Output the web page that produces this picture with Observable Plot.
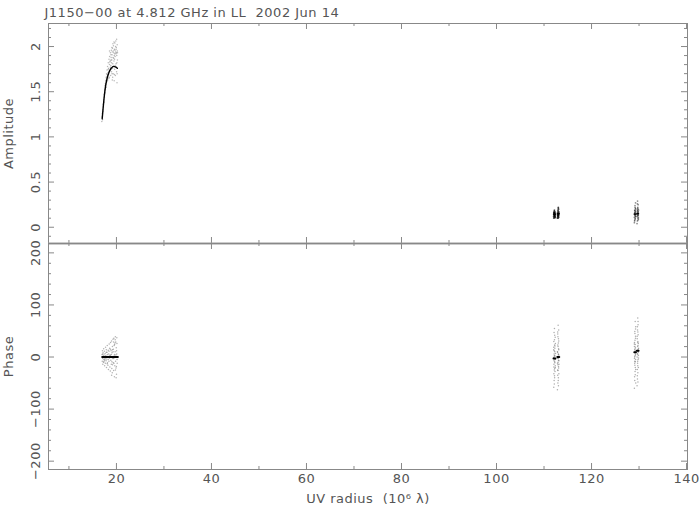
<!DOCTYPE html>
<html><head><meta charset="utf-8">
<script src="https://cdn.jsdelivr.net/npm/d3@7"></script>
<script src="https://cdn.jsdelivr.net/npm/@observablehq/plot@0.6"></script>
<style>
body{margin:0;background:#fff}
#chart svg{display:block}
svg text{white-space:pre;letter-spacing:0.5px}
</style>
</head><body><div id="chart"></div>
<script>
// ---- axis / tick definitions ----
const xDomain = [5.7, 140.2];
const ampDomain = [-0.18, 2.255];
const phaseDomain = [-216, 218];
const xMajor = [20, 40, 60, 80, 100, 120, 140];
const xMinor = [10, 30, 50, 70, 90, 110, 130];
const ampMajor = [0, 0.5, 1, 1.5, 2];
const ampMajorLabels = ["0", "0.5", "1", "1.5", "2"];
const ampMinor = [-0.1, 0.1, 0.2, 0.3, 0.4, 0.6, 0.7, 0.8, 0.9, 1.1, 1.2, 1.3, 1.4, 1.6, 1.7, 1.8, 1.9, 2.1, 2.2];
const phaseMajor = [-200, -100, 0, 100, 200];
const phaseMajorLabels = ["\u2212200", "\u2212100", "0", "100", "200"];
const phaseMinor = [-180, -160, -140, -120, -80, -60, -40, -20, 20, 40, 60, 80, 120, 140, 160, 180];
const titleText = "J1150\u221200 at 4.812 GHz in LL  2002 Jun 14";
const xLabel = "UV radius  (10\u2076 \u03bb)";

// ---- amplitude visibilities [uv radius, amplitude] ----
const amp1 = [[16.92,1.17],[16.98,1.22],[17.04,1.26],[17.07,1.19],[17.12,1.30],[17.16,1.28],[17.21,1.36],[17.27,1.33],[17.31,1.41],[17.36,1.38],[17.42,1.47],[17.47,1.44],[17.53,1.52],[17.58,1.49],[17.61,1.57],[17.66,1.53],[17.72,1.62],[17.77,1.58],[17.83,1.66],[17.86,1.55],[17.92,1.70],[17.97,1.61],[18.03,1.74],[18.08,1.67],[18.13,1.78],[18.17,1.63],[18.22,1.71],[18.28,1.82],[18.33,1.69],[18.37,1.76],[18.43,1.86],[18.48,1.66],[18.52,1.80],[18.57,1.89],[18.63,1.73],[18.68,1.84],[18.72,1.93],[18.77,1.68],[18.82,1.79],[18.88,1.88],[18.93,1.96],[18.97,1.72],[19.02,1.85],[19.08,1.91],[19.13,1.63],[19.17,1.98],[19.23,1.81],[19.28,1.88],[19.32,1.70],[19.37,2.01],[19.43,1.93],[19.47,1.84],[19.52,1.62],[19.57,1.97],[19.63,1.75],[19.67,2.04],[19.72,1.89],[19.78,1.68],[19.83,1.94],[19.87,2.06],[19.92,1.81],[19.98,1.99],[20.03,1.72],[20.07,1.90],[20.12,1.60],[20.16,2.02],[20.21,1.85],[19.54,1.90],[19.04,1.99],[18.54,1.95],[19.81,2.00],[20.01,1.93],[19.34,1.95],[18.91,1.75],[19.61,1.86],[19.21,1.66],[18.41,1.65],[19.94,1.97],[20.09,1.82],[19.41,1.87],[18.62,1.83],[18.84,1.91],[19.11,1.94],[19.26,2.03],[19.49,2.05],[19.69,1.96],[19.89,1.92],[20.04,2.08],[20.18,1.95],[19.73,1.79],[19.58,1.69],[19.18,1.76],[18.74,1.77],[18.46,1.73],[18.26,1.75],[18.06,1.69],[17.88,1.64],[17.69,1.59],[17.51,1.48],[17.33,1.39],[19.97,1.77],[20.14,1.70],[19.36,1.78],[18.98,1.82],[19.64,1.92],[20.23,1.93],[19.06,1.70],[18.86,1.85]];
const ampA = [[112.05,0.10],[112.12,0.11],[112.21,0.12],[112.31,0.13],[112.38,0.14],[112.09,0.15],[112.24,0.16],[112.33,0.17],[112.02,0.12],[112.18,0.18],[112.41,0.11],[112.14,0.13],[112.28,0.15],[112.22,0.14],[112.06,0.16],[112.35,0.12],[112.11,0.17],[112.19,0.19],[112.27,0.105],[112.15,0.135],[112.08,0.145],[112.30,0.155],[112.20,0.125],[112.13,0.165],
  [112.82,0.10],[112.91,0.11],[113.02,0.12],[113.12,0.13],[112.88,0.14],[113.05,0.15],[112.84,0.16],[113.14,0.17],[112.98,0.18],[112.93,0.19],[113.07,0.20],[112.86,0.13],[113.11,0.11],[112.95,0.15],[113.01,0.22],[113.04,0.14],[112.89,0.12],[113.09,0.16],[112.97,0.10],[112.92,0.17],[113.00,0.21],[112.96,0.125],[113.06,0.145],[112.90,0.135]];
const ampB = [[129.02,0.05],[129.10,0.08],[129.20,0.10],[129.30,0.12],[129.12,0.13],[129.22,0.14],[129.04,0.15],[129.14,0.16],[129.32,0.17],[129.18,0.18],[129.08,0.19],[129.24,0.21],[129.01,0.11],[129.15,0.24],[129.26,0.27],[129.11,0.14],[129.29,0.20],[129.19,0.09],[129.09,0.16],[129.23,0.12],[129.16,0.22],[129.06,0.07],[129.27,0.15],[129.13,0.18],
  [129.58,0.04],[129.66,0.07],[129.76,0.10],[129.86,0.11],[129.70,0.13],[129.80,0.14],[129.60,0.15],[129.72,0.16],[129.83,0.17],[129.68,0.18],[129.90,0.19],[129.78,0.20],[129.74,0.22],[129.62,0.12],[129.81,0.25],[129.69,0.29],[129.79,0.08],[129.73,0.15],[129.71,0.21],[129.84,0.13],[129.64,0.26],[129.77,0.17],[129.87,0.09],[129.67,0.19]];

// ---- phase visibilities [uv radius, phase deg] ----
const ph1 = [[17.02,-8],[16.98,5],[17.05,12],[17.09,-3],[17.13,-14],[17.18,8],[17.22,2],[17.27,-10],[17.31,16],[17.36,-5],[17.41,4],[17.46,11],[17.52,-17],[17.57,-2],[17.62,7],[17.67,-12],[17.71,19],[17.76,3],[17.82,-7],[17.87,14],[17.91,-20],[17.96,-4],[18.02,9],[18.07,22],[18.12,-11],[18.17,1],[18.21,-16],[18.26,13],[18.31,-24],[18.37,6],[18.42,-8],[18.47,25],[18.51,-2],[18.56,17],[18.62,-19],[18.67,4],[18.71,-27],[18.76,28],[18.81,-6],[18.87,12],[18.92,-14],[18.97,31],[19.02,-22],[19.07,8],[19.12,-30],[19.16,20],[19.21,-3],[19.27,34],[19.32,-11],[19.36,15],[19.41,-26],[19.46,36],[19.52,2],[19.57,-38],[19.61,24],[19.66,-17],[19.72,10],[19.77,39],[19.82,-8],[19.86,29],[19.91,-21],[19.96,18],[20.01,-33],[20.06,6],[20.11,26],[19.93,-40],[17.24,-1],[17.79,0],[18.33,1],[18.89,-1],[19.43,-3],[18.64,3],[19.14,14],[20.16,-12],[17.49,-6],[18.09,5],[17.15,6],[17.38,-9],[17.63,-4],[17.85,9],[18.05,-13],[18.28,-5],[18.44,11],[18.58,-1],[18.73,15],[18.94,5],[19.04,-9],[19.19,-15],[19.29,10],[19.48,-12],[19.59,5],[19.69,27],[19.79,-25],[19.88,4],[20.03,12],[20.13,-5],[19.74,33],[19.51,22],[19.99,-18],[18.99,-35],[19.39,29],[20.08,37]];
const phA = [[112.05,-58],[112.12,-45],[112.21,-36],[112.31,-28],[112.38,-20],[112.09,-14],[112.24,-9],[112.33,-5],[112.02,-1],[112.18,3],[112.41,7],[112.14,12],[112.28,17],[112.22,23],[112.06,30],[112.35,38],[112.11,47],[112.19,55],[112.29,-11],[112.13,6],[112.26,-22],[112.04,19],[112.34,-3],[112.17,0],[112.23,-40],[112.08,-32],[112.36,-17],[112.15,-25],[112.27,10],[112.03,14],[112.39,26],[112.20,33],[112.10,-7],[112.32,2],[112.16,-52],[112.25,42],[112.07,-19],[112.30,21],
  [112.82,-63],[112.91,-50],[113.02,-40],[113.12,-32],[112.88,-25],[113.05,-18],[112.84,-12],[113.14,-7],[112.98,-3],[112.93,1],[113.07,5],[112.86,9],[113.11,14],[112.95,20],[113.01,27],[113.04,35],[112.89,44],[113.09,52],[112.97,61],[112.92,-15],[112.83,10],[113.03,-6],[113.13,2],[112.94,-26],[113.00,-45],[112.87,-35],[113.08,-21],[112.96,-10],[113.06,16],[112.90,23],[113.10,31],[112.85,-2],[112.99,6],[113.15,-14],[112.93,39],[113.03,-55],[112.88,48],[113.05,-1]];
const phB = [[129.02,-60],[129.10,-45],[129.20,-34],[129.30,-24],[129.12,-16],[129.22,-9],[129.04,-3],[129.14,2],[129.32,6],[129.18,10],[129.08,14],[129.24,19],[129.01,25],[129.15,32],[129.26,40],[129.11,49],[129.29,58],[129.19,68],[129.09,-12],[129.23,4],[129.03,20],[129.16,-28],[129.27,12],[129.13,8],[129.06,-38],[129.21,-20],[129.28,-5],[129.17,16],[129.05,28],[129.25,36],[129.13,45],[129.31,-50],[129.07,0],[129.20,24],[129.10,-8],[129.27,54],
  [129.58,-55],[129.66,-42],[129.76,-30],[129.86,-20],[129.70,-12],[129.80,-5],[129.60,0],[129.72,5],[129.83,9],[129.68,13],[129.90,17],[129.78,22],[129.74,28],[129.62,35],[129.81,43],[129.69,52],[129.79,62],[129.73,75],[129.71,-8],[129.84,15],[129.63,-36],[129.75,30],[129.82,11],[129.67,7],[129.77,-48],[129.64,-24],[129.88,-2],[129.70,20],[129.85,26],[129.61,40],[129.76,48],[129.66,58],[129.80,68],[129.73,-17],[129.87,3],[129.59,12]];

// ---- model curves [uv radius, value, segment] ----
const ampModel = [[17.0,1.20,0],[17.2,1.32,0],[17.4,1.43,0],[17.7,1.56,0],[18.0,1.64,0],[18.4,1.71,0],[18.7,1.745,0],[19.0,1.765,0],[19.4,1.78,0],[19.8,1.775,0],[20.2,1.76,0],
  [112.0,0.145,1],[112.4,0.145,1],[112.8,0.15,2],[113.2,0.15,2],[129.0,0.145,3],[129.35,0.145,3],[129.55,0.15,4],[129.9,0.15,4]];
const phModel = [[17.0,0,0],[20.3,0,0],[112.0,-3,1],[112.4,-3,1],[112.8,0,2],[113.2,0,2],[129.0,9,3],[129.35,9,3],[129.55,12,4],[129.9,12,4]];

// ---- helpers ----
const W = 699, ML = 48, MR = 12;
const FW = W - ML - MR;
const frameC = "#888", textC = "#555";
const font = {fontFamily: "DejaVu Sans", fontSize: "13px", background: "transparent", overflow: "visible"};

function ticks(yMaj, yMin, fh) {
  const o = (extra) => Object.assign({stroke: frameC, strokeWidth: 1}, extra);
  return [
    Plot.ruleX(xMajor, o({x: d => d, insetTop: fh - 6})),
    Plot.ruleX(xMajor, o({x: d => d, insetBottom: fh - 6})),
    Plot.ruleX(xMinor, o({x: d => d, insetTop: fh - 3})),
    Plot.ruleX(xMinor, o({x: d => d, insetBottom: fh - 3})),
    Plot.ruleY(yMaj, o({y: d => d, insetRight: FW - 6})),
    Plot.ruleY(yMaj, o({y: d => d, insetLeft: FW - 6})),
    Plot.ruleY(yMin, o({y: d => d, insetRight: FW - 3})),
    Plot.ruleY(yMin, o({y: d => d, insetLeft: FW - 3}))
  ];
}
const pts = (data, op, r) => Plot.dot(data, {x: d => d[0], y: d => d[1], r, fill: "#000", fillOpacity: op, stroke: null});
const model = (data, w) => Plot.line(data, {x: d => d[0], y: d => d[1], z: d => d[2], stroke: "#000", strokeWidth: w, curve: "monotone-x"});

const topFH = 220;
const topPlot = Plot.plot({
  width: W, height: 243, marginTop: 23, marginBottom: 0, marginLeft: ML, marginRight: MR,
  x: {domain: xDomain, axis: null},
  y: {domain: ampDomain, axis: null},
  style: font,
  marks: [
    ...ticks(ampMajor, ampMinor, topFH),
    Plot.frame({stroke: frameC}),
    pts(amp1, 0.28, 0.75),
    pts(ampA, 0.6, 0.9),
    pts(ampB, 0.45, 0.85),
    model(ampModel, 1.4),
    Plot.ruleY([ampDomain[0]], {stroke: "#999", strokeWidth: 2}),
    Plot.text(ampMajor, {y: d => d, frameAnchor: "left", dx: -13, rotate: -90, text: (d, i) => ampMajorLabels[i], fill: textC, textAnchor: "middle"}),
    Plot.text(["Amplitude"], {frameAnchor: "left", dx: -40, rotate: -90, text: d => d, fill: textC, textAnchor: "middle"}),
    Plot.text([titleText], {frameAnchor: "top-left", dx: -4, dy: -16, text: d => d, fill: textC, textAnchor: "start"})
  ]
});

const botFH = 226;
const botPlot = Plot.plot({
  width: W, height: 268, marginTop: 0, marginBottom: 42, marginLeft: ML, marginRight: MR,
  x: {domain: xDomain, axis: null},
  y: {domain: phaseDomain, axis: null},
  style: font,
  marks: [
    ...ticks(phaseMajor, phaseMinor, botFH),
    Plot.frame({stroke: frameC}),
    pts(ph1, 0.3, 0.75),
    pts(phA, 0.32, 0.75),
    pts(phB, 0.32, 0.75),
    model(phModel, 2),
    Plot.text(phaseMajor, {y: d => d, frameAnchor: "left", dx: -13, rotate: -90, text: (d, i) => phaseMajorLabels[i], fill: textC, textAnchor: "middle"}),
    Plot.text(["Phase"], {frameAnchor: "left", dx: -40, rotate: -90, text: d => d, fill: textC, textAnchor: "middle"}),
    Plot.text(xMajor, {x: d => d, frameAnchor: "bottom", dy: 13, text: d => String(d), fill: textC, textAnchor: "middle"}),
    Plot.text([xLabel], {frameAnchor: "bottom", dy: 33, text: d => d, fill: textC, textAnchor: "middle"})
  ]
});

const el = document.getElementById("chart");
el.appendChild(topPlot);
el.appendChild(botPlot);
</script>
</body></html>
